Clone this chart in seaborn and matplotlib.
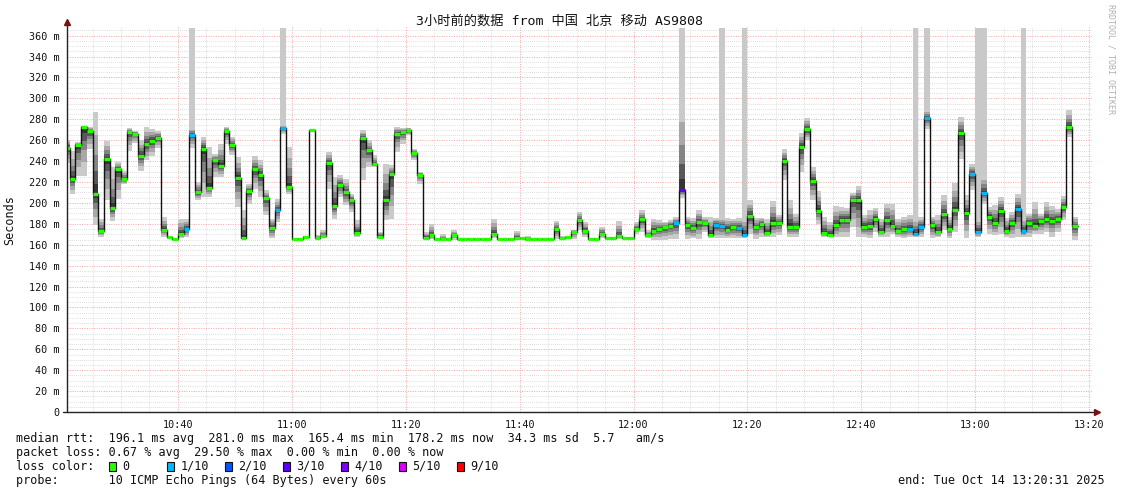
import numpy as np
import seaborn as sns
import matplotlib
matplotlib.use("Agg")
import matplotlib.pyplot as plt
from matplotlib.patches import Rectangle

# time axis: minutes after 10:20, first step starts at 10:20:31
start_min = 31 / 60

# median rtt per 1-minute step (ms)
median_ms = [
    253, 222.5, 255.6, 272.5, 268.7, 208.5, 173, 242, 194.8, 232.4,
    222.5, 268, 266.4, 245, 256, 259.7, 262.3, 174.4, 167.4, 165.8,
    170.3, 175, 265.2, 210, 252, 214.6, 240.6, 235.6, 268.7, 255.6,
    224, 166.5, 211.3, 232.4, 226.3, 204.4, 176, 193.2, 271.2, 214.9,
    165.5, 165.5, 167.8, 269.3, 166.5, 168, 238, 196.7, 217.4, 210,
    202.5, 171.6, 262.3, 250.2, 236.8, 167.8, 202.5, 227.6, 266.4, 268,
    269.3, 247.7, 227, 166.5, 169, 165.5, 165.5, 165.5, 169, 165.5,
    165.5, 165.5, 165.5, 165.5, 165.5, 170, 165.5, 165.5, 165.5, 166.5,
    166.5, 165.5, 165.5, 165.5, 165.5, 165.5, 175, 166, 167, 172,
    184, 173.2, 165.8, 165.8, 170.6, 166, 166.5, 168, 166, 166,
    175, 184.3, 169.3, 173.2, 175, 176.7, 178.3, 180.5, 212.6, 179,
    175.7, 181.7, 180.5, 169.3, 179, 178, 174.4, 176.7, 175.7, 169.7,
    187.7, 176.7, 180.2, 171.3, 180.8, 181, 240.3, 177.3, 176.7, 253.7,
    270.3, 220.9, 192.6, 171.3, 169.7, 178.9, 184, 184, 203.1, 203,
    177.3, 177.6, 184.9, 172.5, 183.5, 177.6, 172.9, 175, 175.3, 170.6,
    177, 280.8, 178.6, 172.2, 189, 175.3, 193.5, 266.8, 190.4, 227.3,
    172.5, 209.4, 186.9, 181, 192.2, 173.2, 180.8, 194.2, 172.9, 181,
    178, 182.4, 184.6, 183, 184.3, 196, 272.5, 177.6,
]

# extent of the smoke (slowest / fastest ping) per step
smoke_hi = [
    260, 250, 258, 274, 273, 286.5, 185, 259, 234, 239,
    231, 272, 269, 260, 273, 271, 269, 186.6, 168, 166.5,
    185, 185, 272, 220, 263, 253.4, 247, 256.6, 272.5, 263,
    243.8, 193, 218.4, 244.5, 240.7, 212, 185, 203.4, 275, 253.4,
    166, 166, 168, 270, 169, 174, 248.6, 224.8, 226.3, 223,
    208.8, 183.4, 269.3, 259.8, 245.4, 172.2, 237.5, 236, 272.5, 272,
    272, 252, 229.5, 172.2, 180.2, 166, 170, 166, 173.8, 166,
    166, 166, 166, 166, 166, 185, 166, 166, 166, 172.8,
    167, 168, 166, 166, 166, 166, 182.4, 168, 168, 174.5,
    191.3, 181.8, 166.5, 166.5, 177, 166.5, 167, 182.4, 166.5, 166.5,
    181.8, 192.9, 173.8, 184.9, 183.4, 181.8, 183.4, 186.5, 302, 186.5,
    186, 192.9, 186.5, 186.5, 186, 186, 186, 185, 186, 186,
    202.5, 186, 186, 185, 201.5, 188.2, 251.2, 202.5, 189.7, 267,
    281.4, 234.3, 211.4, 186.6, 181.8, 196.7, 196, 195.5, 209.8, 215.8,
    188.2, 193, 195.2, 185, 199.3, 199.3, 185, 186.6, 188.2, 186,
    186.6, 290, 186.6, 188.2, 207.2, 186.6, 219, 282, 207.2, 237.5,
    186, 227, 196, 197.7, 205.7, 186, 191.3, 208.8, 186, 189.7,
    200.9, 189.7, 200.9, 196.7, 194.5, 206.3, 289, 187,
]
smoke_lo = [
    238, 209, 226, 226, 252, 178.6, 167.5, 202.5, 183, 204,
    218, 250, 257, 231, 241, 245, 253, 167.5, 165.5, 165.5,
    166, 167.5, 253, 202.5, 205.7, 205.7, 224.8, 224.8, 256.6, 245.4,
    196, 166, 199.3, 213.6, 205.7, 188, 166, 181.8, 266, 208.8,
    165.5, 165.5, 166.5, 268, 166, 166, 213.6, 185, 205.7, 197.7,
    191.3, 167.5, 221.6, 234.3, 234.3, 166, 183.4, 185, 248.6, 256.6,
    264.5, 240.7, 218.4, 165.8, 165.8, 165.5, 165.5, 165.5, 165, 165.5,
    165.5, 165.5, 165.5, 165.5, 165.5, 166, 165.5, 165.5, 165.5, 165.5,
    165.5, 165.5, 165.5, 165.5, 165.5, 165.5, 165.8, 165.5, 165.5, 165.8,
    173.8, 167.4, 165.5, 165.5, 166.8, 165.5, 165.5, 165.8, 165.5, 165.5,
    170.6, 172.2, 166.8, 165, 165, 165, 165.8, 165.8, 205, 165.8,
    166, 165.8, 172.2, 166.8, 166, 166, 166, 166, 166, 166,
    170.6, 165.9, 167.5, 167.5, 167.5, 169, 221.6, 167.5, 167.5, 229.5,
    259.8, 202.5, 180.2, 167.5, 167.5, 167.5, 167.5, 167.5, 177, 167.5,
    167.5, 166, 172.2, 167.5, 167.5, 170.6, 167.5, 166, 167.5, 167,
    167.5, 271, 166, 167.5, 173.8, 166, 172.2, 242, 166.8, 212,
    167, 199.3, 170.6, 169, 170.6, 167.5, 166, 167.5, 167.5, 167.5,
    170.6, 170.6, 172.2, 167.5, 172.2, 183.4, 263, 165,
]

# steps with a single very slow ping reaching the top of the graph
spike_steps = [22, 38, 108, 115, 119, 149, 151, 160, 161, 168]
spike_top = 367

# steps with packet loss (count out of 10)
lossy_steps = [21, 22, 37, 38, 107, 108, 114, 115, 118, 119,
               148, 149, 150, 151, 159, 160, 161, 167, 168]
lossy_count = [1, 1, 1, 1, 1, 3, 1, 1, 1, 1,
               1, 1, 1, 1, 1, 1, 1, 1, 1]

loss_colors = {0: "#26ff00", 1: "#00b8ff", 2: "#0059ff", 3: "#5e00ff",
               4: "#7e00ff", 5: "#dd00ff", 9: "#ff0000"}
legend_labels = ["0", "1/10", "2/10", "3/10", "4/10", "5/10", "9/10"]
legend_keys = [0, 1, 2, 3, 4, 5, 9]

xtick_min = [20, 40, 60, 80, 100, 120, 140, 160, 180]
xtick_labels = ["10:40", "11:00", "11:20", "11:40", "12:00",
                "12:20", "12:40", "13:00", "13:20"]

stats_lines = [
    "median rtt:  196.1 ms avg  281.0 ms max  165.4 ms min  178.2 ms now  34.3 ms sd  5.7   am/s",
    "packet loss: 0.67 % avg  29.50 % max  0.00 % min  0.00 % now",
]
probe_line = "probe:       10 ICMP Echo Pings (64 Bytes) every 60s"
end_line = "end: Tue Oct 14 13:20:31 2025"
title = "3小时前的数据 from 中国 北京 移动 AS9808"

sns.set_theme(style="white")
plt.rcParams["font.family"] = ["DejaVu Sans Mono", "Noto Sans CJK SC"]

W, H = 1121, 494
fig = plt.figure(figsize=(W / 100, H / 100), dpi=100)
fig.patch.set_facecolor("white")
ax = fig.add_axes([67 / W, (H - 412) / H, (1092 - 67) / W, (412 - 27.3) / H])

n = len(median_ms)
med = np.array(median_ms, dtype=float)
lo = np.array(smoke_lo, dtype=float)
hi = np.array(smoke_hi, dtype=float)
t0 = np.array([start_min] + list(range(1, n)), dtype=float)
t1 = np.arange(1, n + 1, dtype=float)
edges = np.append(t0, t1[-1])


def ext(a):
    return np.append(a, a[-1])


# spikes up to the top
ax.bar(t0[spike_steps], spike_top - hi[spike_steps], bottom=hi[spike_steps],
       width=(t1 - t0)[spike_steps], align="edge", color="#c9c9c9", lw=0,
       zorder=2)

# smoke: lighter far from the median, darker close to it
for frac, col in [(1.0, "#cacaca"), (0.72, "#a8a8a8"), (0.48, "#848484"),
                  (0.28, "#585858"), (0.12, "#353535")]:
    up = med + frac * (hi - med)
    dn = med - frac * (med - lo)
    ax.fill_between(edges, ext(dn), ext(up), step="post", color=col,
                    lw=0, zorder=3)

# median line
sns.lineplot(x=edges, y=ext(med), drawstyle="steps-post", color="#111111",
             lw=1.0, estimator=None, ax=ax, zorder=4)
loss = np.zeros(n, dtype=int)
loss[lossy_steps] = lossy_count
ax.hlines(med, t0, t1, colors=[loss_colors[v] for v in loss], lw=2.4,
          zorder=5)

# axes, grid
ax.set_xlim(start_min, 180 + start_min)
ax.set_ylim(0, 368)
ax.set_xticks(xtick_min)
ax.set_xticklabels(xtick_labels)
ax.set_xticks(np.arange(5, 181, 5), minor=True)
yt = np.arange(0, 361, 20)
ax.set_yticks(yt)
ax.set_yticklabels(["0" if v == 0 else f"{v} m" for v in yt])
ax.set_yticks(np.arange(0, 366, 5), minor=True)
ax.grid(which="minor", color="#d4d4d4", ls=(0, (1, 1.5)), lw=0.6)
ax.grid(which="major", color="#f4a5a5", ls=(0, (1, 1.5)), lw=0.7)
ax.set_axisbelow(True)
for s in ax.spines.values():
    s.set_visible(False)
ax.tick_params(which="both", direction="inout", color="#444444",
               labelsize=7.3, labelcolor="#111111")
ax.tick_params(which="major", length=3, width=0.7, pad=4)
ax.tick_params(which="minor", length=2, width=0.5)
ax.set_xlabel("")
ax.set_ylabel("")

ax.plot([0, 0], [0, 1.012], transform=ax.transAxes, clip_on=False,
        color="#222222", lw=1, zorder=6)
ax.plot([-0.004, 1.004], [0, 0], transform=ax.transAxes, clip_on=False,
        color="#222222", lw=1, zorder=6)
ax.plot([0], [1.015], marker="^", ms=4, color="#7a1010",
        transform=ax.transAxes, clip_on=False, zorder=7)
ax.plot([1.005], [0], marker=">", ms=4, color="#7a1010",
        transform=ax.transAxes, clip_on=False, zorder=7)

# texts
def fy(py):
    return 1 - py / H


fig.text(560 / W, fy(21), title, ha="center", va="center", fontsize=9.5,
         color="#111111")
fig.text(10 / W, fy(220), "Seconds", rotation=90, ha="center", va="center",
         fontsize=8.5, color="#111111")
fig.text(1111 / W, fy(4), "RRDTOOL / TOBI OETIKER", rotation=270,
         ha="center", va="top", fontsize=6, color="#b0b0b0")

fs = 8.5
fig.text(16 / W, fy(438), stats_lines[0], ha="left", va="center",
         fontsize=fs, color="#111111")
fig.text(16 / W, fy(452), stats_lines[1], ha="left", va="center",
         fontsize=fs, color="#111111")
fig.text(16 / W, fy(466), "loss color:", ha="left", va="center",
         fontsize=fs, color="#111111")
for i, (key, lab) in enumerate(zip(legend_keys, legend_labels)):
    bx = 108.5 + 58 * i
    fig.add_artist(Rectangle((bx / W, fy(470.5)), 7 / W, 9 / H,
                             transform=fig.transFigure,
                             facecolor=loss_colors[key],
                             edgecolor="#111111", lw=0.8))
    fig.text((bx + 14) / W, fy(466), lab, ha="left", va="center",
             fontsize=fs, color="#111111")
fig.text(16 / W, fy(480), probe_line, ha="left", va="center",
         fontsize=fs, color="#111111")
fig.text(1105 / W, fy(480), end_line, ha="right", va="center",
         fontsize=fs, color="#111111")

fig.savefig("out.png", dpi=100)
